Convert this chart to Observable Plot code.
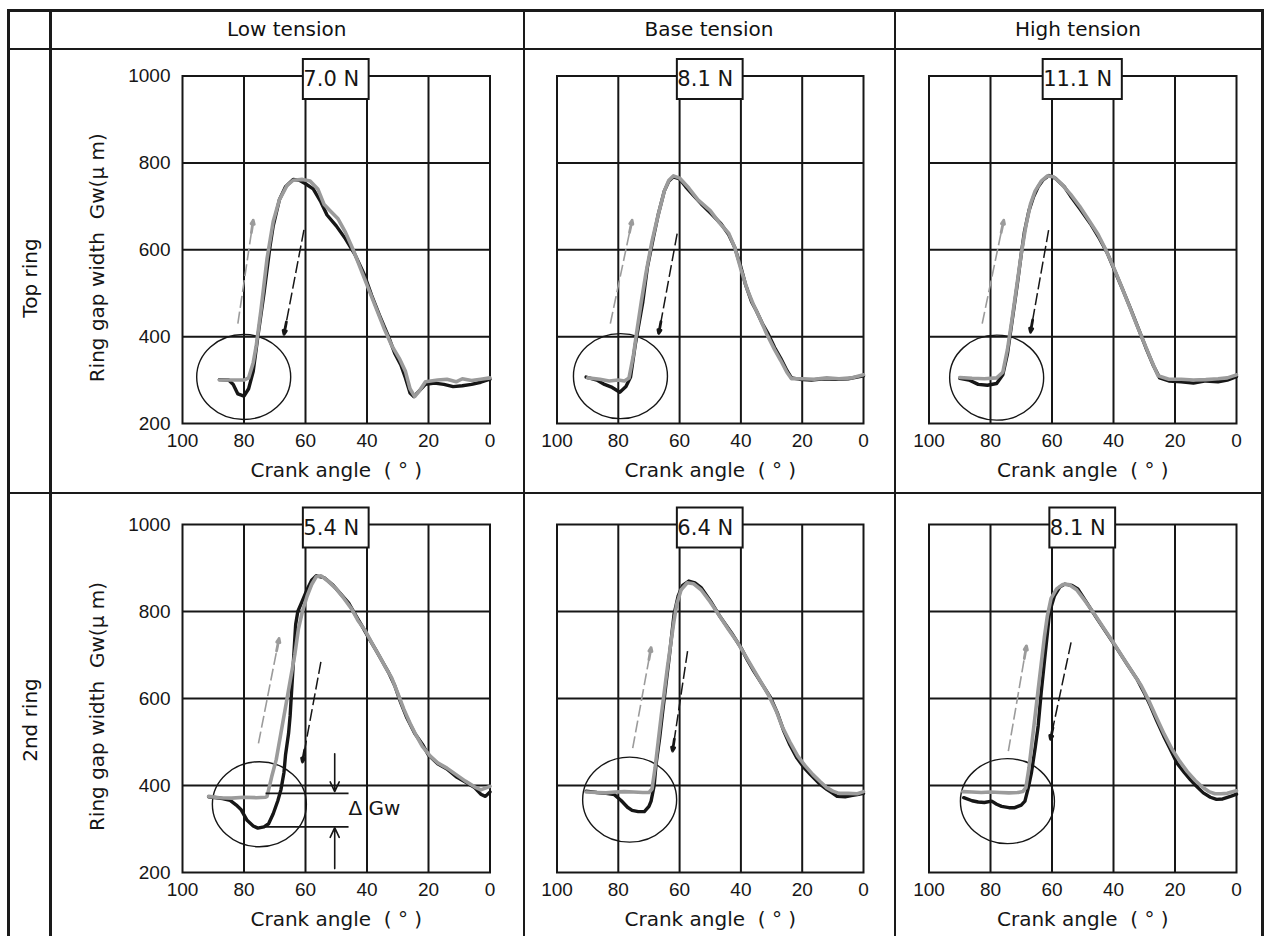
<!DOCTYPE html>
<html><head><meta charset="utf-8">
<script src="https://cdn.jsdelivr.net/npm/d3@7"></script>
<script src="https://cdn.jsdelivr.net/npm/@observablehq/plot@0.6"></script>
<style>
html,body{margin:0;padding:0;background:#fff;}
#fig{position:relative;width:1270px;height:936px;overflow:hidden;background:#fff;font-family:"DejaVu Sans",sans-serif;color:#111;}
.ln{position:absolute;background:#1a1a1a;}
.hdr{position:absolute;top:10px;height:38px;line-height:38px;text-align:center;font-size:20px;white-space:nowrap;}
.rowlab{position:absolute;font-size:20px;white-space:nowrap;transform:translate(-50%,-50%) rotate(-90deg);}
.panel{position:absolute;}
.panel svg{overflow:visible;}
</style></head><body><div id="fig"></div>
<script>
// ---------- data ----------
const tensions = ["Low tension", "Base tension", "High tension"];
const rings = ["Top ring", "2nd ring"];
const tensionLabels = ["7.0 N", "8.1 N", "11.1 N", "5.4 N", "6.4 N", "8.1 N"];
const xTicks = [100, 80, 60, 40, 20, 0];
const yTicks = [200, 400, 600, 800, 1000];
const xGrid = [80, 60, 40, 20];
const yGrid = [400, 600, 800];
const xLabel = "Crank angle\u00a0\u00a0(\u00a0°\u00a0)";
const yLabel = "Ring gap width\u00a0\u00a0Gw(\u03bc\u00a0m)";

// Top ring, low tension
const topLowBlack = [[88,301],[85,300],[83.5,290],[82,268],[80,263],[78.5,280],[77,320],[75.5,400],[73.5,500],[71.5,610],[70.5,655],[68.5,715],[66.5,745],[64,762],[62,760],[60,752],[57.5,740],[55,710],[53,680],[50,655],[47,625],[44,590],[41,545],[38.5,495],[36,450],[33,400],[31,362],[29,335],[27.5,305],[26,270],[24.8,262],[23,275],[21,290],[18,293],[15,290],[12,285],[9,287],[6,290],[3,295],[0,302]];
const topLowGray = [[88,300],[84,300],[80,300],[78.5,305],[77,340],[76,380],[74.5,460],[72.5,580],[70.5,665],[68.5,715],[66,748],[64,760],[61,762],[58.5,758],[56,740],[54,705],[52,690],[49.5,672],[47,640],[44.5,600],[42,555],[39.5,510],[37,465],[34.5,420],[32,380],[29.5,350],[27.5,320],[26,280],[24.5,262],[23,275],[21,296],[17,300],[14,302],[11,296],[9,303],[6,299],[3,302],[0,305]];
// Top ring, base tension
const topBaseBlack = [[90.5,307],[87,300],[84.5,290],[82,283],[79.5,272],[77.5,285],[76,307],[74.5,380],[73.5,420],[72,480],[70.5,560],[68.5,630],[67,680],[65,735],[63.5,758],[62,768],[60,763],[58,745],[55.5,725],[53,706],[50,685],[46.5,660],[44,635],[42,605],[40,560],[38.5,520],[36.5,480],[35,460],[33,430],[31,405],[29,375],[27,350],[25,322],[23.5,305],[21,302],[17,300],[13,303],[9,302],[5,303],[0,310]];
const topBaseGray = [[90,305],[86,302],[83,298],[80,300],[78,298],[76.5,305],[75,360],[74,410],[72.5,480],[71,545],[69,620],[67,680],[65,735],[63.5,760],[62,770],[60,765],[57,742],[54,715],[50,690],[47,662],[44,638],[42,605],[40,555],[38,510],[36,475],[34,445],[31.5,405],[29,370],[27,345],[25,318],[23.5,303],[20,303],[16,302],[12,305],[8,303],[4,305],[0,312]];
// Top ring, high tension
const topHighBlack = [[90,304],[87,300],[84,290],[81,288],[78,292],[76,312],[74.5,360],[73.5,410],[72.3,470],[71.2,525],[70,590],[69,640],[67.5,690],[66,722],[64.5,745],[63,760],[61,771],[59,765],[56,745],[54,724],[51,695],[47.5,660],[44.5,625],[42,592],[39.5,550],[37,508],[34.5,465],[32,420],[29.5,375],[27,333],[25,305],[22,298],[18,296],[14,293],[10,298],[6,296],[3,300],[0,308]];
const topHighGray = [[90,306],[86,304],[82,303],[78,305],[76,318],[74.5,370],[73,440],[71.5,515],[70,590],[68.5,655],[67,705],[65.5,735],[63.5,758],[61.5,770],[59.5,768],[57,752],[54,728],[51,700],[48,668],[45,635],[42.5,600],[40,560],[37.5,517],[35,473],[32.5,428],[30,385],[27.5,342],[25.5,310],[22,302],[18,302],[14,300],[10,301],[6,303],[3,305],[0,312]];
// 2nd ring, low tension
const secLowBlack = [[91.5,374],[87,370],[84.5,366],[82.5,355],[81,345],[79,320],[77,307],[75.5,302],[73.5,305],[72,312],[70.5,335],[69,365],[68,390],[67,430],[66.5,470],[65.5,520],[65,560],[64.5,620],[63.8,700],[63.2,770],[62.5,800],[61,825],[59.5,850],[58,872],[56.5,882],[54,878],[51,860],[48.5,840],[46,820],[44,795],[41.5,765],[39.5,740],[37,710],[35,685],[33,660],[31,630],[29,590],[27,555],[24.5,520],[22,495],[20,470],[17,450],[14,438],[11,420],[8,408],[5,395],[3,380],[1.5,375],[0,385]];
const secLowGray = [[91.5,375],[88,372],[84,371],[80,373],[76,372],[73,373],[72.5,375],[71,420],[69.5,460],[68,520],[66.5,580],[65,640],[63.5,700],[62.3,760],[61,800],[59.5,835],[58,862],[56.5,880],[55,882],[53,872],[50,852],[47.5,830],[45,806],[43,780],[40.5,755],[38,722],[36,698],[34,672],[32,648],[30,612],[28,575],[26,543],[24,515],[22,490],[19.5,468],[17,452],[14,440],[11,425],[8,410],[5,397],[3,390],[0,398]];
// 2nd ring, base tension
const secBaseBlack = [[90.5,387],[87,384],[84,382],[81.3,379],[79,365],[77,350],[75.5,343],[73.5,340],[71.5,340],[70,352],[69.3,364],[68.3,400],[67.7,448],[66.5,510],[65.5,571],[64.5,630],[63.4,694],[62.5,750],[61.8,794],[60.5,835],[59,860],[57,870],[55,866],[53,855],[50,825],[46.6,786],[43,750],[40,717],[38,690],[35.8,663],[33,632],[30.3,602],[28,565],[26,525],[24,493],[21.7,463],[19.5,442],[17.3,425],[14.5,405],[12,391],[10,382],[8.6,375],[6,374],[4,377],[2,379],[0,382]];
const secBaseGray = [[90.5,385],[87,384],[84,383],[81,385],[78,386],[75,385],[72,384],[70,384],[69,392],[68,440],[67,500],[66,560],[65,615],[64,670],[63,720],[62,770],[61,815],[59.5,850],[57.5,866],[55.5,864],[53,850],[50,822],[47,790],[44,758],[41,728],[38.5,698],[36,668],[33.5,638],[31,608],[28.5,572],[26.5,535],[24,500],[21.5,468],[19,445],[16.5,425],[14,408],[12,395],[10,387],[8,382],[5,382],[2,381],[0,386]];
// 2nd ring, high tension
const secHighBlack = [[88.7,372],[86,365],[84,362],[82,361],[79.6,364],[78,357],[76.4,352],[74,349],[72.1,349],[70,355],[68.8,364],[67.7,395],[66.7,429],[65.5,485],[64.5,537],[63.5,615],[62.4,690],[61.5,750],[60.8,798],[59.2,836],[57.5,856],[55.9,863],[53.5,860],[51.6,852],[48.5,818],[45.2,782],[42,748],[38.7,713],[35.5,678],[32.3,644],[30,613],[28,583],[26,550],[23.7,514],[21.5,483],[19.4,452],[17,430],[15.1,414],[13,398],[10.8,383],[8.5,373],[6.5,368],[4.5,369],[3.2,372],[1.5,376],[0,380]];
const secHighGray = [[89,386],[86,385],[83,384],[80,385],[77,384],[74,383],[71,384],[69.5,386],[68.5,395],[67.5,440],[66.5,500],[65.5,560],[64.5,620],[63.5,680],[62.5,740],[61.5,790],[60.3,830],[58.5,852],[56.5,862],[54.5,862],[52,850],[49,822],[46,792],[43,760],[40,728],[37,695],[34,662],[31,630],[28.5,595],[26,556],[23.5,518],[21,484],[18.5,456],[16,432],[13.5,412],[11,396],[9,386],[7,381],[5,381],[3,382],[1,386],[0,388]];

// arrows per panel: [x1, y1, x2, y2] (gray up, black down)
const grayArrows = [[82,430,77,668],[82.6,430,75.5,668],[82.7,430,75.7,668],[75.3,497,68.6,738],[75.3,486,69.3,717],[74.2,479,68.3,721]];
const blackArrows = [[60.5,646,67,405],[60.8,637,66.8,407],[61.1,645,67,410],[55,684,61,454],[57.4,709,62.3,479],[53.8,729,60.5,506]];
// circled region centres
const circleCentres = [[80.1,307],[79.3,309],[78,305.5],[75,357],[76.3,367.5],[74.5,364]];
// ΔGw annotation (2nd ring, low tension)
const deltaLines = [[73,382,46,382],[75,305,46,305]];
const deltaArrows = [[50.5,473,50.5,386],[50.5,209,50.5,303]];
const deltaText = [[46,346,"\u0394 Gw"]];

const blackSeries = [topLowBlack, topBaseBlack, topHighBlack, secLowBlack, secBaseBlack, secHighBlack];
const graySeries = [topLowGray, topBaseGray, topHighGray, secLowGray, secBaseGray, secHighGray];

// ---------- layout ----------
const fig = document.getElementById("fig");
const colGeom = [
  {left: 52, width: 471, ml: 130, mr: 33.5},
  {left: 526, width: 367, ml: 30.5, mr: 30},
  {left: 896, width: 365, ml: 32.5, mr: 25}
];
const rowGeom = [
  {top: 50, height: 442, mt: 25.5, mb: 69},
  {top: 494, height: 442, mt: 30, mb: 64}
];

function line(x, y, w, h) {
  const d = document.createElement("div");
  d.className = "ln";
  Object.assign(d.style, {left: x + "px", top: y + "px", width: w + "px", height: h + "px"});
  fig.appendChild(d);
}
// table rules
line(7, 9, 1257, 2.5);
line(7, 47.5, 1257, 2.5);
line(7, 491.5, 1257, 2.5);
line(7, 9, 2.5, 940);
line(49, 9, 2.5, 940);
line(522.5, 9, 2.5, 940);
line(893.5, 9, 2.5, 940);
line(1261, 9, 2.5, 940);

const colCentres = [286.75, 709, 1078];
tensions.forEach((t, i) => {
  const d = document.createElement("div");
  d.className = "hdr";
  d.textContent = t;
  d.style.left = (colCentres[i] - 150) + "px";
  d.style.width = "300px";
  fig.appendChild(d);
});
const rowCentres = [278, 720];
rings.forEach((r, i) => {
  const d = document.createElement("div");
  d.className = "rowlab";
  d.textContent = r;
  d.style.left = "30px";
  d.style.top = rowCentres[i] + "px";
  fig.appendChild(d);
});

const ctx = document.createElement("canvas").getContext("2d");
ctx.font = "21px 'DejaVu Sans'";

function ellipseSymbol(rx, ry) {
  const k = 0.5522847498;
  return {draw(c) {
    c.moveTo(rx, 0);
    c.bezierCurveTo(rx, ry * k, rx * k, ry, 0, ry);
    c.bezierCurveTo(-rx * k, ry, -rx, ry * k, -rx, 0);
    c.bezierCurveTo(-rx, -ry * k, -rx * k, -ry, 0, -ry);
    c.bezierCurveTo(rx * k, -ry, rx, -ry * k, rx, 0);
    c.closePath();
  }};
}

const BLACK = "#161616", GRAY = "#9b9b9b";

for (let i = 0; i < 6; i++) {
  const row = Math.floor(i / 3), col = i % 3;
  const cg = colGeom[col], rg = rowGeom[row];
  const label = tensionLabels[i];
  const tw = ctx.measureText(label).width;
  const hw = (tw + 10) / 2;
  const ga = [grayArrows[i]], ba = [blackArrows[i]];
  const headOf = a => [a[2] - 0.12 * (a[2] - a[0]), a[3] - 0.12 * (a[3] - a[1]), a[2], a[3]];

  const marks = [
    Plot.ruleX(xGrid, {stroke: BLACK, strokeWidth: 2}),
    Plot.ruleY(yGrid, {stroke: BLACK, strokeWidth: 2}),
    Plot.frame({stroke: BLACK, strokeWidth: 2}),
    Plot.axisX({ticks: xTicks, tickSize: 0, tickPadding: 10, tickFormat: d => String(d), label: null, fontSize: 19}),
    Plot.text([xLabel], {frameAnchor: "bottom", dy: 47, lineAnchor: "middle", textAnchor: "middle", text: d => d, fontFamily: "DejaVu Sans", fontSize: 20, fill: BLACK}),
    Plot.dot([circleCentres[i]], {x: d => d[0], y: d => d[1], r: 40, symbol: ellipseSymbol(47, 42.5), fill: "none", stroke: BLACK, strokeWidth: 1.4}),
    Plot.line(blackSeries[i], {x: d => d[0], y: d => d[1], stroke: BLACK, strokeWidth: 3.4, strokeLinejoin: "round"}),
    Plot.line(graySeries[i], {x: d => d[0], y: d => d[1], stroke: GRAY, strokeWidth: 3.6, strokeLinejoin: "round"}),
    Plot.link(ga, {x1: d => d[0], y1: d => d[1], x2: d => d[2], y2: d => d[3], stroke: GRAY, strokeWidth: 1.6, strokeDasharray: "12,4"}),
    Plot.arrow(ga.map(headOf), {x1: d => d[0], y1: d => d[1], x2: d => d[2], y2: d => d[3], stroke: GRAY, strokeWidth: 2.8, headLength: 16, headAngle: 45}),
    Plot.link(ba, {x1: d => d[0], y1: d => d[1], x2: d => d[2], y2: d => d[3], stroke: BLACK, strokeWidth: 1.5, strokeDasharray: "12,4"}),
    Plot.arrow(ba.map(headOf), {x1: d => d[0], y1: d => d[1], x2: d => d[2], y2: d => d[3], stroke: BLACK, strokeWidth: 2.8, headLength: 16, headAngle: 45}),
    Plot.rect([label], {x1: () => 50, x2: () => 50, y1: () => 1000, y2: () => 1000, insetLeft: -hw, insetRight: -hw, insetTop: -16.5, insetBottom: -23.5, fill: "white", stroke: BLACK, strokeWidth: 2}),
    Plot.text([label], {x: () => 50, y: () => 1000, text: d => d, dx: -hw, dy: 3.5, textAnchor: "start", lineAnchor: "middle", fontFamily: "DejaVu Sans", fontSize: 21, fill: BLACK})
  ];
  if (col === 0) {
    marks.push(
      Plot.axisY({ticks: yTicks, tickSize: 0, tickPadding: 12, tickFormat: d => String(d), label: null, fontSize: 19}),
      Plot.text([yLabel], {frameAnchor: "left", rotate: -90, dx: -85, dy: 8, textAnchor: "middle", lineAnchor: "middle", text: d => d, fontFamily: "DejaVu Sans", fontSize: 20, fill: BLACK})
    );
  }
  if (i === 3) {
    marks.push(
      Plot.link(deltaLines, {x1: d => d[0], y1: d => d[1], x2: d => d[2], y2: d => d[3], stroke: BLACK, strokeWidth: 1.6}),
      Plot.arrow(deltaArrows, {x1: d => d[0], y1: d => d[1], x2: d => d[2], y2: d => d[3], stroke: BLACK, strokeWidth: 1.6, headLength: 10, headAngle: 50}),
      Plot.text(deltaText, {x: d => d[0], y: d => d[1], text: d => d[2], textAnchor: "start", lineAnchor: "middle", fontFamily: "DejaVu Sans", fontSize: 20, fill: BLACK})
    );
  }

  const chart = Plot.plot({
    width: cg.width,
    height: rg.height,
    marginLeft: cg.ml,
    marginRight: cg.mr,
    marginTop: rg.mt,
    marginBottom: rg.mb,
    x: {domain: [100, 0], axis: null},
    y: {domain: [200, 1000], axis: null},
    style: {fontFamily: "'Liberation Sans', sans-serif", fontSize: "19px", color: BLACK, background: "transparent", overflow: "visible"},
    marks
  });
  const wrap = document.createElement("div");
  wrap.className = "panel";
  wrap.style.left = cg.left + "px";
  wrap.style.top = rg.top + "px";
  wrap.appendChild(chart);
  fig.appendChild(wrap);
}
</script></body></html>
